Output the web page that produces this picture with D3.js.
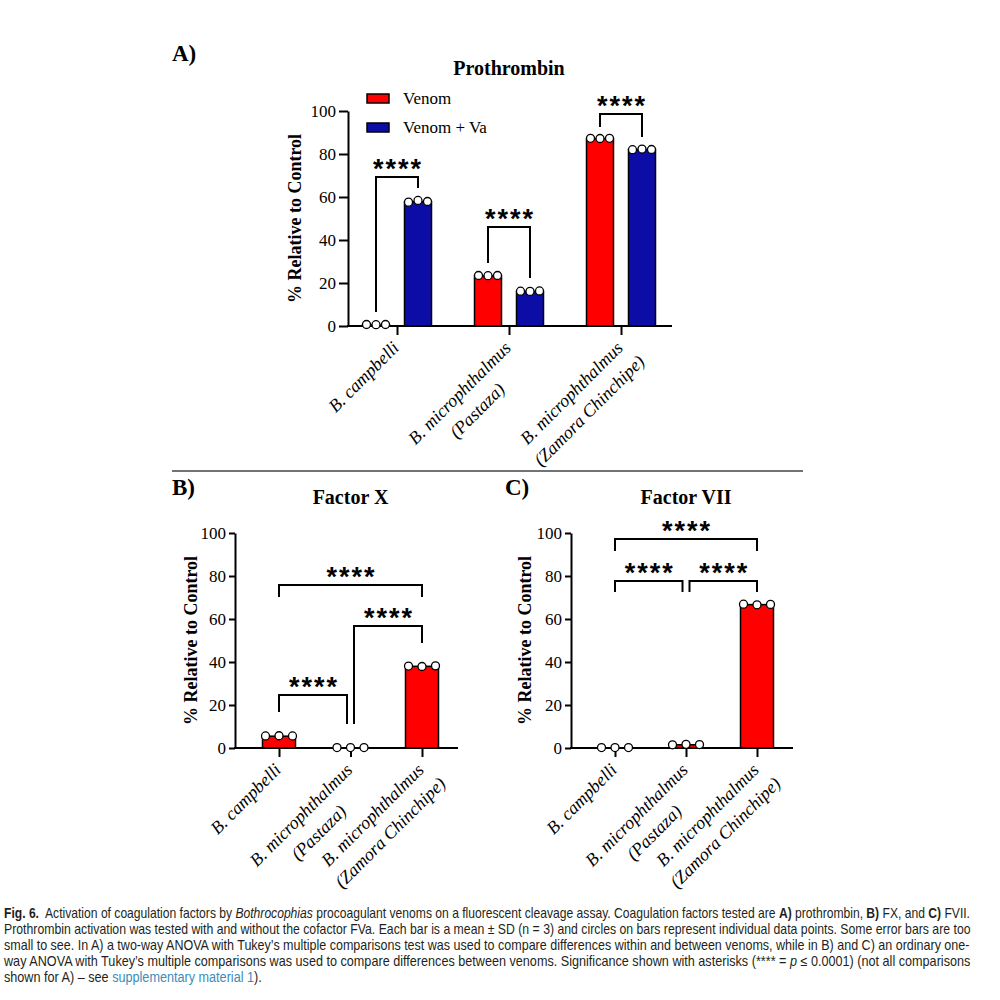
<!DOCTYPE html>
<html>
<head>
<meta charset="utf-8">
<script src="https://cdn.jsdelivr.net/npm/d3@7"></script>
<style>
  body { margin: 0; background: #fff; }
  svg text { font-family: "Liberation Serif", "Times New Roman", serif; fill: #000; }
</style>
</head>
<body>
<script>
const venoms = [['B. campbelli'], ['B. microphthalmus', '(Pastaza)'], ['B. microphthalmus', '(Zamora Chinchipe)']];
const yTicks = [0, 20, 40, 60, 80, 100];
const seriesA = ['Venom', 'Venom + Va'];

// A) prothrombin - means and replicates (n = 3)
const prothrombinVenom = [0.5, 23.3, 87.1];
const prothrombinVenomVa = [57.8, 16.1, 82.1];
const prothrombinVenomPts = [[0.7, 0.6, 0.7], [23.5, 23.4, 23.5], [87.3, 87.2, 87.3]];
const prothrombinVenomVaPts = [[57.6, 58.4, 57.9], [16.2, 16.1, 16.3], [82.0, 82.3, 82.1]];

// B) factor X
const factorX = [5.5, 0.1, 38.0];
const factorXPts = [[5.6, 5.7, 5.6], [0.2, 0.2, 0.2], [38.1, 37.9, 38.2]];

// C) factor VII
const factorVII = [0.1, 1.5, 66.7];
const factorVIIPts = [[0.2, 0.2, 0.2], [1.5, 1.7, 1.6], [66.9, 66.6, 66.8]];

// significance brackets (levels in % units): top, left leg end, right leg end
const bracketsA = [
  { g: 0, top: 69.3, left: 6.5, right: 64.2 },
  { g: 1, top: 46.0, left: 29.3, right: 22.3 },
  { g: 2, top: 98.6, left: 92.6, right: 87.9 }
];
const bracketsB = [
  { a: 0, b: 1, top: 24.7, left: 16.7, right: 11.2 },
  { a: 1, b: 2, top: 56.7, left: 11.2, right: 48.8 },
  { a: 0, b: 2, top: 75.8, left: 70.2, right: 70.2 }
];
const bracketsC = [
  { a: 0, b: 1, top: 77.7, left: 72.6, right: 72.6 },
  { a: 1, b: 2, top: 77.7, left: 72.6, right: 72.6 },
  { a: 0, b: 2, top: 97.2, left: 91.6, right: 91.6 }
];
const stars = '****';

const caption = [
  [['b', 'Fig. 6.'], ['', '  Activation of coagulation factors by '], ['i', 'Bothrocophias'], ['', ' procoagulant venoms on a fluorescent cleavage assay. Coagulation factors tested are '], ['b', 'A)'], ['', ' prothrombin, '], ['b', 'B)'], ['', ' FX, and '], ['b', 'C)'], ['', ' FVII.']],
  [['', 'Prothrombin activation was tested with and without the cofactor FVa. Each bar is a mean \u00b1 SD (n = 3) and circles on bars represent individual data points. Some error bars are too']],
  [['', 'small to see. In A) a two-way ANOVA with Tukey\u2019s multiple comparisons test was used to compare differences within and between venoms, while in B) and C) an ordinary one-']],
  [['', 'way ANOVA with Tukey\u2019s multiple comparisons was used to compare differences between venoms. Significance shown with asterisks (**** = '], ['i', 'p'], ['', ' \u2264 0.0001) (not all comparisons']],
  [['', 'shown for A) \u2013 see '], ['a', 'supplementary material 1'], ['', ').']]
];

const RED = '#ff0000';
const BLUE = '#0c0ca6';

const svg = d3.select('body').append('svg')
  .attr('width', 1000)
  .attr('height', 1000);

function makePanel(p) {
  const y = d3.scaleLinear().domain([0, 100]).range([p.y0, p.y100]);
  const x = d3.scalePoint().domain(d3.range(venoms.length)).range(p.ticks);
  const g = svg.append('g');

  // y axis
  g.append('g')
    .attr('transform', `translate(${p.axisX}, 0)`)
    .call(d3.axisLeft(y).tickValues(yTicks).tickSize(p.tick).tickSizeOuter(0).tickPadding(3))
    .call((a) => a.select('.domain').attr('stroke-width', 2))
    .call((a) => a.selectAll('.tick line').attr('stroke-width', 2))
    .call((a) => a.selectAll('.tick text').attr('font-size', 17).attr('font-family', 'Liberation Serif'));

  // x axis
  g.append('g')
    .attr('transform', `translate(0, ${p.y0})`)
    .call(d3.axisBottom(x).tickSize(9).tickFormat(''))
    .call((a) => a.select('.domain').remove())
    .call((a) => a.selectAll('.tick line').attr('stroke-width', 2));
  g.append('line')
    .attr('x1', p.axisX - 1).attr('x2', p.axisEnd)
    .attr('y1', p.y0).attr('y2', p.y0)
    .attr('stroke', '#000').attr('stroke-width', 2);

  // rotated category labels, lines centred on each other
  venoms.forEach((lines, i) => {
    const lab = g.append('g')
      .attr('transform', `translate(${x(i) + 3}, ${p.y0 + 23}) rotate(-45)`)
      .attr('font-size', 18).attr('font-style', 'italic');
    const first = lab.append('text').attr('text-anchor', 'end').text(lines[0]);
    if (lines[1]) {
      const w = first.node().getComputedTextLength();
      lab.append('text').attr('text-anchor', 'middle')
        .attr('x', -w / 2).attr('y', 25)
        .text(lines[1]);
    }
  });

  // y title and panel title
  g.append('text')
    .attr('transform', `translate(${p.labelX}, ${(p.y0 + p.y100) / 2}) rotate(-90)`)
    .attr('text-anchor', 'middle')
    .attr('font-size', 18).attr('font-weight', 'bold')
    .text('% Relative to Control');
  g.append('text')
    .attr('x', x(1)).attr('y', p.titleY)
    .attr('text-anchor', 'middle')
    .attr('font-size', 20).attr('font-weight', 'bold')
    .text(p.title);
  g.append('text')
    .attr('x', p.letterX).attr('y', p.letterY)
    .attr('font-size', 23).attr('font-weight', 'bold')
    .text(p.letter);

  return { g, x, y };
}

function drawBars(panel, cx, values, pts, width, spread, color) {
  const { g, y } = panel;
  g.append('g').selectAll('rect')
    .data(values)
    .enter()
    .append('rect')
    .attr('x', (d, i) => cx(i) - width / 2)
    .attr('y', (d) => y(d))
    .attr('width', width)
    .attr('height', (d) => y(0) - y(d))
    .attr('fill', color)
    .attr('stroke', '#000')
    .attr('stroke-width', 1.5);

  pts.forEach((set, i) => {
    g.append('g').selectAll('circle')
      .data(set)
      .enter()
      .append('circle')
      .attr('cx', (d, j) => cx(i) + (j - 1) * spread)
      .attr('cy', (d) => y(d))
      .attr('r', 4)
      .attr('fill', '#fff')
      .attr('stroke', '#000')
      .attr('stroke-width', 1.3);
  });
}

function drawBracket(panel, x1, x2, b) {
  const { g, y } = panel;
  g.append('path')
    .attr('d', `M${x1},${y(b.left)}V${y(b.top)}H${x2}V${y(b.right)}`)
    .attr('fill', 'none')
    .attr('stroke', '#000')
    .attr('stroke-width', 2);
  g.append('text')
    .attr('x', (x1 + x2) / 2 + 1)
    .attr('y', y(b.top) + 1)
    .attr('text-anchor', 'middle')
    .attr('font-weight', 'bold')
    .attr('font-size', 27)
    .attr('letter-spacing', 2)
    .style('font-family', '"Liberation Sans", Arial, sans-serif')
    .text(stars);
}

// ---------- A) Prothrombin ----------
const pA = makePanel({
  y0: 326, y100: 111, axisX: 348, axisEnd: 672, ticks: [397, 621], tick: 9,
  labelX: 301, title: 'Prothrombin', titleY: 75, letter: 'A)', letterX: 172, letterY: 61
});
const sub = d3.scaleBand().domain(seriesA).range([-34.5, 34.5]).paddingInner(0.357);
const cxVenom = (i) => pA.x(i) + sub('Venom') + sub.bandwidth() / 2;
const cxVa = (i) => pA.x(i) + sub('Venom + Va') + sub.bandwidth() / 2;
drawBars(pA, cxVenom, prothrombinVenom, prothrombinVenomPts, sub.bandwidth(), 9.5, RED);
drawBars(pA, cxVa, prothrombinVenomVa, prothrombinVenomVaPts, sub.bandwidth(), 9.5, BLUE);
bracketsA.forEach((b) => drawBracket(pA, cxVenom(b.g), cxVa(b.g), b));

// legend
const legend = pA.g.append('g').attr('transform', 'translate(367, 94)');
seriesA.forEach((s, i) => {
  legend.append('rect')
    .attr('x', 0).attr('y', i * 29)
    .attr('width', 22).attr('height', 9)
    .attr('fill', i === 0 ? RED : BLUE)
    .attr('stroke', '#000').attr('stroke-width', 1.5);
  legend.append('text')
    .attr('x', 36).attr('y', i * 29 + 10)
    .attr('font-size', 17)
    .text(s);
});

// separator between rows
svg.append('line')
  .attr('x1', 172).attr('x2', 803)
  .attr('y1', 471).attr('y2', 471)
  .attr('stroke', '#444').attr('stroke-width', 1.5);

// ---------- B) Factor X and C) Factor VII ----------
function nudge(x, i, other) {
  // keep adjacent brackets apart where they meet on the middle category
  if (i === 1) return x(i) + (other > i ? 3.5 : -3.5);
  return x(i);
}

const pB = makePanel({
  y0: 748, y100: 533, axisX: 235, axisEnd: 458, ticks: [279, 422], tick: 6,
  labelX: 197, title: 'Factor X', titleY: 504, letter: 'B)', letterX: 172, letterY: 495
});
drawBars(pB, pB.x, factorX, factorXPts, 33, 13.5, RED);
bracketsB.forEach((b) => drawBracket(pB, nudge(pB.x, b.a, b.b), nudge(pB.x, b.b, b.a), b));

const pC = makePanel({
  y0: 748, y100: 533, axisX: 571, axisEnd: 793, ticks: [615, 757], tick: 6,
  labelX: 531, title: 'Factor VII', titleY: 504, letter: 'C)', letterX: 505, letterY: 495
});
drawBars(pC, pC.x, factorVII, factorVIIPts, 33, 13.5, RED);
bracketsC.forEach((b) => drawBracket(pC, nudge(pC.x, b.a, b.b), nudge(pC.x, b.b, b.a), b));

// ---------- caption ----------
const capWidths = [967, 967, 967, 967, 258];
caption.forEach((line, k) => {
  const t = svg.append('text')
    .attr('y', 0)
    .attr('font-size', 14)
    .style('font-family', '"Liberation Sans Narrow", "Liberation Sans", Roboto, sans-serif')
    .attr('xml:space', 'preserve')
    .style('white-space', 'pre');
  line.forEach(([kind, str]) => {
    t.append('tspan')
      .attr('font-weight', kind === 'b' ? 'bold' : null)
      .attr('font-style', kind === 'i' ? 'italic' : null)
      .style('fill', kind === 'a' ? '#3b8cb8' : '#231f20')
      .text(str);
  });
  const w = t.node().getComputedTextLength();
  t.attr('transform', `translate(4, ${918 + k * 16}) scale(${capWidths[k] / w}, 1)`);
});
</script>
</body>
</html>
